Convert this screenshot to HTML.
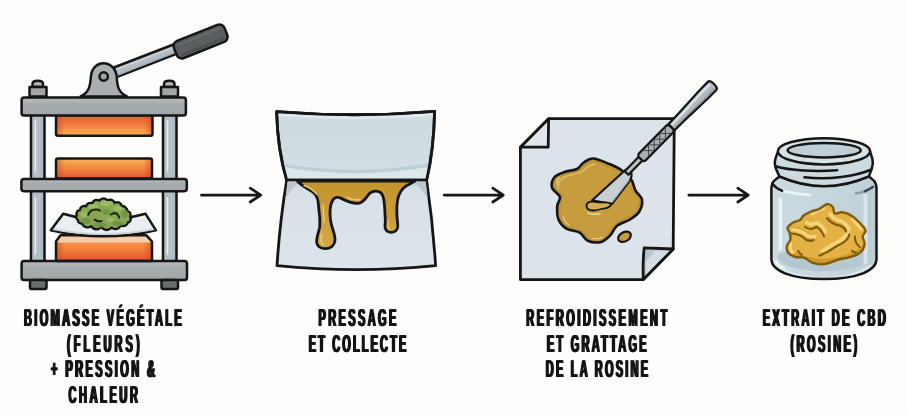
<!DOCTYPE html>
<html lang="fr">
<head>
<meta charset="utf-8">
<title>Extraction rosin CBD</title>
<style>
html,body{margin:0;padding:0;background:#fdfdfc;}
body{width:907px;height:415px;overflow:hidden;font-family:"Liberation Sans",sans-serif;}
svg{display:block;}
.lbl{font-family:"Liberation Sans",sans-serif;font-weight:bold;font-size:24.4px;fill:#141414;text-rendering:geometricPrecision;}
.o{stroke:#161616;stroke-width:2.2;stroke-linejoin:round;stroke-linecap:round;}
#step2 .o{stroke-width:2.8;}
#press .o{stroke-width:2.5;}
#step4 .o{stroke-width:2.5;}
#step3 .sh{stroke-width:2.8;}
</style>
</head>
<body>
<svg width="907" height="415" viewBox="0 0 907 415">
<defs>
  <linearGradient id="gHot" x1="0" y1="0" x2="0" y2="1">
    <stop offset="0" stop-color="#e85b38"/>
    <stop offset="0.45" stop-color="#f27a3c"/>
    <stop offset="1" stop-color="#fbb556"/>
  </linearGradient>
  <linearGradient id="gHot2" x1="0" y1="0" x2="0" y2="1">
    <stop offset="0" stop-color="#f8b259"/>
    <stop offset="0.5" stop-color="#f1863b"/>
    <stop offset="1" stop-color="#e4553a"/>
  </linearGradient>
  <linearGradient id="gHot3" x1="0" y1="0" x2="0" y2="1">
    <stop offset="0" stop-color="#f79a48"/>
    <stop offset="0.5" stop-color="#f07a38"/>
    <stop offset="1" stop-color="#e5532f"/>
  </linearGradient>
  <linearGradient id="gHotEdge" x1="0" y1="0" x2="1" y2="0">
    <stop offset="0" stop-color="#c9411f" stop-opacity="0.55"/>
    <stop offset="0.09" stop-color="#c9411f" stop-opacity="0"/>
    <stop offset="0.91" stop-color="#c9411f" stop-opacity="0"/>
    <stop offset="1" stop-color="#c9411f" stop-opacity="0.55"/>
  </linearGradient>
  <linearGradient id="gPlate" x1="0" y1="0" x2="0" y2="1">
    <stop offset="0" stop-color="#b2b7b9"/>
    <stop offset="0.28" stop-color="#aeb3b5"/>
    <stop offset="0.32" stop-color="#a6abad"/>
    <stop offset="0.8" stop-color="#a4a9ab"/>
    <stop offset="1" stop-color="#9a9fa1"/>
  </linearGradient>
  <linearGradient id="gCol" x1="0" y1="0" x2="1" y2="0">
    <stop offset="0" stop-color="#b3bec4"/>
    <stop offset="0.6" stop-color="#b5c0c6"/>
    <stop offset="1" stop-color="#a9b4bb"/>
  </linearGradient>
</defs>
<rect x="0" y="0" width="907" height="415" fill="#fdfdfc"/>

<!-- ============ STEP 1 : PRESS ============ -->
<g id="press">
  <!-- columns -->
  <rect class="o" x="31" y="112" width="13.5" height="152" fill="url(#gCol)"/>
  <rect class="o" x="163" y="112" width="13.5" height="152" fill="url(#gCol)"/>
  <g stroke="#e9eff2" stroke-width="1.5" stroke-linecap="round" fill="none">
    <path d="M35.4 121 V171 M35.4 198 V254 M167.4 121 V171 M167.4 198 V254"/>
  </g>
  <!-- heated blocks -->
  <rect x="56" y="115" width="96.5" height="20.8" rx="2" fill="url(#gHot)"/>
  <rect x="56" y="115" width="96.5" height="20.8" rx="2" fill="url(#gHotEdge)"/>
  <rect class="o" x="56" y="115" width="96.5" height="20.8" rx="2" fill="none"/>
  <rect x="56" y="158.5" width="96" height="20" rx="2" fill="url(#gHot2)"/>
  <rect x="56" y="158.5" width="96" height="20" rx="2" fill="url(#gHotEdge)"/>
  <rect class="o" x="56" y="158.5" width="96" height="20" rx="2" fill="none"/>
  <rect x="56" y="241" width="96" height="20" fill="url(#gHot3)"/>
  <rect x="56" y="241" width="96" height="20" fill="url(#gHotEdge)"/>
  <!-- handle rod -->
  <path class="o" d="M103.5 71.5 L173.5 44.5 L177 53.5 L107 80.8 Z" fill="#b4bdc3"/>
  <path d="M108 72.6 L173 47.5" stroke="#c9d1d6" stroke-width="1.8" fill="none"/>
  <path d="M110 78 L175 52.6" stroke="#9fa9af" stroke-width="1.6" fill="none"/>
  <!-- grip -->
  <rect class="o" x="-27.2" y="-9.2" width="54.4" height="18.4" rx="5.5" fill="#5b5e61" transform="translate(200.6 41.4) rotate(-21.8)"/>
  <path d="M-22 -5 L22 -5" stroke="#686b6e" stroke-width="2.2" stroke-linecap="round" transform="translate(200.6 41.4) rotate(-21.8)"/>
  <path d="M-22 5.6 L22 5.6" stroke="#4c4f52" stroke-width="2.4" stroke-linecap="round" transform="translate(200.6 41.4) rotate(-21.8)"/>
  <!-- bracket -->
  <path class="o" d="M80.5 96.5 C88.5 93 90 87 90.8 78 C91 69 96.5 63.2 103.5 63.2 C110.5 63.2 116.5 69 116.8 78 C117.3 87 119 93 127 96.5 Z" fill="#a9aeb0"/>
  <circle class="o" cx="103.7" cy="76.5" r="4.2" fill="#9ea3a5"/>
  <!-- bolts -->
  <g id="bolt">
    <path class="o" d="M32.5 87 L32.5 84 Q32.5 80.8 37.8 80.8 Q43 80.8 43 84 L43 87 Z" fill="#b1b6b8"/>
    <rect class="o" x="29.5" y="87" width="17" height="9.5" fill="#a0a5a7"/>
  </g>
  <use href="#bolt" x="131.5"/>
  <!-- plates -->
  <rect class="o" x="21.6" y="97.4" width="164.3" height="18.1" rx="2.6" fill="url(#gPlate)"/>
  <rect class="o" x="21.4" y="178.9" width="165.4" height="12.3" rx="2.6" fill="url(#gPlate)"/>
  <rect class="o" x="21.6" y="261" width="165.4" height="19" rx="2.6" fill="url(#gPlate)"/>
  <!-- bottom block top face -->
  <path d="M60.5 235.3 L146.4 235.3 L152 242.6 L56 242.6 Z" fill="#f7cba6"/>
  
  <path class="o" d="M60.5 235.3 L146.4 235.3 L152 241.5 L152 261 L56 261 L56 241.5 Z" fill="none"/>
  <!-- parchment -->
  <path class="o" d="M63.2 213.7 Q85 220 103 220.5 Q122 220 145.4 213.7 L156 230.3 Q130 236.3 103.5 236.3 Q77 236.3 50.8 230.3 Z" fill="#e9eef2"/>
  <path d="M55 228.5 Q103 238 152 228.5 L155 230 Q103.5 240 52 230 Z" fill="#c9d4dc"/>
  <!-- bud -->
  <path class="o" d="M76.8 215.3 A3.7 3.7 0 0 1 79.9 210.0 A4.3 4.3 0 0 1 86.1 206.4 A4.0 4.0 0 0 1 92.2 203.6 A4.7 4.7 0 0 1 99.4 200.6 A4.9 4.9 0 0 1 107.6 200.6 A4.5 4.5 0 0 1 114.7 202.8 A4.8 4.8 0 0 1 121.9 206.4 A4.1 4.1 0 0 1 127.0 210.8 A4.2 4.2 0 0 1 130.1 217.1 A3.4 3.4 0 0 1 128.0 222.5 A4.6 4.6 0 0 1 120.9 225.2 A5.7 5.7 0 0 1 111.6 227.5 A6.1 6.1 0 0 1 101.4 226.9 A6.1 6.1 0 0 1 91.2 226.1 A5.8 5.8 0 0 1 82.0 223.4 A3.3 3.3 0 0 1 77.9 219.8 A2.8 2.8 0 0 1 76.8 215.3 Z" fill="#88a753" style="stroke-width:2.3"/>
  <g fill="#6f9142" stroke="none" opacity="0.75">
    <ellipse cx="86" cy="221" rx="5" ry="3.2"/><ellipse cx="100" cy="225" rx="7" ry="2.8"/><ellipse cx="118" cy="223.5" rx="6" ry="2.8"/><ellipse cx="125" cy="214" rx="3.5" ry="4"/><ellipse cx="106" cy="212" rx="4" ry="3"/>
  </g>
  <g fill="#9dbb63" stroke="none">
    <ellipse cx="93.5" cy="206.5" rx="5" ry="2.4"/><ellipse cx="106" cy="203.5" rx="6" ry="2.4"/><ellipse cx="118" cy="208.5" rx="4.5" ry="2.4"/><ellipse cx="84" cy="214.5" rx="3" ry="2.4"/><ellipse cx="110.5" cy="219.5" rx="4" ry="2"/>
  </g>
  <g fill="none" stroke="#1f2a12" stroke-width="2.1" stroke-linecap="round">
    <path d="M88.2 214.8 Q90 209.8 95 209.6 Q98 209.2 100 210.6"/>
    <path d="M94.6 219.6 Q97.5 222 101.6 221"/>
    <path d="M110.8 214.5 Q114.5 212 117 214 Q118.8 215.8 119.2 217.6"/>
  </g>
  <!-- feet -->
  <rect class="o" x="30" y="280" width="16.5" height="9" rx="1.5" fill="#6b6e71"/>
  <rect class="o" x="161.5" y="280" width="16.5" height="9" rx="1.5" fill="#6b6e71"/>
</g>


<!-- ============ STEP 2 : FOLDED PARCHMENT ============ -->
<defs>
  <linearGradient id="gP2a" x1="0" y1="0" x2="0" y2="1">
    <stop offset="0" stop-color="#cfdbe1"/><stop offset="0.6" stop-color="#d0dce2"/><stop offset="1" stop-color="#d5e0e6"/>
  </linearGradient>
  <linearGradient id="gRos2" x1="0" y1="0" x2="0" y2="1">
    <stop offset="0" stop-color="#c4942c"/><stop offset="0.5" stop-color="#ca9c36"/><stop offset="1" stop-color="#d4ac48"/>
  </linearGradient>
  <linearGradient id="gP2b" x1="0" y1="0" x2="0" y2="1">
    <stop offset="0" stop-color="#c3d0d8"/><stop offset="0.1" stop-color="#d6e0e6"/><stop offset="1" stop-color="#dce5ea"/>
  </linearGradient>
</defs>
<clipPath id="cpTop"><path d="M276.6 111.6 Q356 118 434.6 111.4 Q433.8 150 426.6 180.2 L286.7 180.2 Q277.6 150 276.6 111.6 Z"/></clipPath>
<g id="step2">
  <path class="o" d="M276.6 111.6 Q356 118 434.6 111.4 Q433.8 150 426.6 180.2 L286.7 180.2 Q277.6 150 276.6 111.6 Z" fill="url(#gP2a)"/>
  <g clip-path="url(#cpTop)">
    <path d="M270 164 Q356 181 442 164 L440 182 L275 182 Z" fill="#dde6eb"/>
    <path d="M270 161 Q356 178.5 442 161 L442 164.5 Q356 182 270 164.5 Z" fill="#bfcdd5"/>
    <path d="M279 114.8 Q356 121 432.6 114.6" stroke="#e0e9ed" stroke-width="2.6" fill="none"/>
  </g>
  <path class="o" d="M276.6 111.6 Q356 118 434.6 111.4 Q433.8 150 426.6 180.2 L286.7 180.2 Q277.6 150 276.6 111.6 Z" fill="none"/>
  <path class="o" d="M286.7 180.2 L426.6 180.2 Q432.8 222 435.6 265.6 Q356 273.8 277 265.6 Q279.8 222 286.7 180.2 Z" fill="url(#gP2b)"/>
  <path d="M287.5 181.6 L299 181.6 Q292 189 285.6 198 Z" fill="#b9c7ce"/>
  <path d="M425.8 181.6 L414 181.6 Q421 189 427.6 198 Z" fill="#b9c7ce"/>
  <!-- rosin drip -->
  <path class="o" d="M297.5 181.2 C302 186 308 188.5 312 191.5 C316 194.5 318 198 318.3 203 C318.8 212 320.8 220 319.5 228 C318 234 316 239 316.8 243 C317.8 247 321.5 248.6 325.5 248.6 C330 248.6 334.5 246 335 240 C335.3 234 331.5 228 330.5 220 C329.5 212 330 205 332.5 200.5 C334.5 197 338 196.5 341.5 198.5 C347 201.5 352 203.5 358 203.3 C363.5 203 366 197.5 369 194 C372 190.5 378.5 190 381.5 193.5 C384 196.5 384.5 203 384.8 210 C385 217 385.8 221 385 225 C384.3 229.5 387 232.4 391.2 232.4 C395.5 232.4 398.3 229.5 397.8 225 C397.2 220 396.5 212 397 205 C397.4 198 399 192.5 403.5 188 C407 184.8 411.5 183.5 415 181.2 Z" fill="url(#gRos2)"/>
  <g fill="none" stroke="#e9c872" stroke-width="1.6" stroke-linecap="round">
    <path d="M321.5 234 Q320 242 323 244.5"/><path d="M388.3 221 Q387.5 227 389.5 229"/>
    <path d="M304 185.5 Q312 188.5 316.5 194"/><path d="M347 197.5 Q353 200.5 360 199.5"/><path d="M323 205 Q323.5 214 324 222"/>
  </g>
</g>

<!-- ============ STEP 3 : SHEET + TOOL ============ -->
<g id="step3">
  <path class="o sh" d="M548.6 118.7 L674.3 118.7 L673.2 249 L643.3 279.6 L520.4 279.6 L520.4 147.2 Z" fill="#dce3ea"/>
  <path class="o sh" d="M548.6 118.7 L548.2 147.2 L520.4 147.2 Z" fill="#dfe6eb"/>
  <path class="o sh" d="M644.2 247.8 L673.2 249 L643.3 279.6 Q642.6 262 644.2 247.8 Z" fill="#b7c4cc"/>
  <path d="M655 250.6 L669 251 L646 274.5 L645.6 262 Z" fill="#d3dde3"/>
  <!-- rosin puddle -->
  <clipPath id="cpBlob3"><path d="M593.0 158.5 C597.2 158.7 604.1 161.8 608.9 163.8 C613.7 165.8 618.2 167.8 622.0 170.5 C625.8 173.2 629.2 176.4 631.4 179.7 C633.6 183.0 633.6 187.0 635.4 190.3 C637.2 193.6 641.4 196.1 642.0 199.6 C642.6 203.1 641.3 208.2 639.3 211.5 C637.3 214.8 633.8 217.1 630.0 219.5 C626.2 221.9 620.1 223.3 616.8 226.0 C613.5 228.7 612.8 232.7 610.2 235.4 C607.6 238.1 604.8 241.1 601.0 242.0 C597.2 242.9 591.2 242.2 587.7 240.7 C584.2 239.1 583.2 234.7 579.7 232.7 C576.2 230.7 570.0 230.9 566.5 228.7 C563.0 226.5 560.0 223.2 558.5 219.5 C557.0 215.8 557.0 209.9 557.2 206.2 C557.4 202.4 560.8 200.1 559.9 197.0 C559.0 193.9 552.9 191.0 552.0 187.7 C551.1 184.4 552.4 179.7 554.6 177.0 C556.8 174.3 561.5 173.1 565.2 171.8 C568.9 170.5 573.9 170.6 577.0 169.0 C580.1 167.4 581.0 164.2 583.7 162.5 C586.4 160.8 588.8 158.3 593.0 158.5 Z"/></clipPath>
  <path d="M593.0 158.5 C597.2 158.7 604.1 161.8 608.9 163.8 C613.7 165.8 618.2 167.8 622.0 170.5 C625.8 173.2 629.2 176.4 631.4 179.7 C633.6 183.0 633.6 187.0 635.4 190.3 C637.2 193.6 641.4 196.1 642.0 199.6 C642.6 203.1 641.3 208.2 639.3 211.5 C637.3 214.8 633.8 217.1 630.0 219.5 C626.2 221.9 620.1 223.3 616.8 226.0 C613.5 228.7 612.8 232.7 610.2 235.4 C607.6 238.1 604.8 241.1 601.0 242.0 C597.2 242.9 591.2 242.2 587.7 240.7 C584.2 239.1 583.2 234.7 579.7 232.7 C576.2 230.7 570.0 230.9 566.5 228.7 C563.0 226.5 560.0 223.2 558.5 219.5 C557.0 215.8 557.0 209.9 557.2 206.2 C557.4 202.4 560.8 200.1 559.9 197.0 C559.0 193.9 552.9 191.0 552.0 187.7 C551.1 184.4 552.4 179.7 554.6 177.0 C556.8 174.3 561.5 173.1 565.2 171.8 C568.9 170.5 573.9 170.6 577.0 169.0 C580.1 167.4 581.0 164.2 583.7 162.5 C586.4 160.8 588.8 158.3 593.0 158.5 Z" fill="#c69c3f"/>
  <g clip-path="url(#cpBlob3)" fill="none">
    <path d="M593.0 158.5 C597.2 158.7 604.1 161.8 608.9 163.8 C613.7 165.8 618.2 167.8 622.0 170.5 C625.8 173.2 629.2 176.4 631.4 179.7 C633.6 183.0 633.6 187.0 635.4 190.3 C637.2 193.6 641.4 196.1 642.0 199.6 C642.6 203.1 641.3 208.2 639.3 211.5 C637.3 214.8 633.8 217.1 630.0 219.5 C626.2 221.9 620.1 223.3 616.8 226.0 C613.5 228.7 612.8 232.7 610.2 235.4 C607.6 238.1 604.8 241.1 601.0 242.0 C597.2 242.9 591.2 242.2 587.7 240.7 C584.2 239.1 583.2 234.7 579.7 232.7 C576.2 230.7 570.0 230.9 566.5 228.7 C563.0 226.5 560.0 223.2 558.5 219.5 C557.0 215.8 557.0 209.9 557.2 206.2 C557.4 202.4 560.8 200.1 559.9 197.0 C559.0 193.9 552.9 191.0 552.0 187.7 C551.1 184.4 552.4 179.7 554.6 177.0 C556.8 174.3 561.5 173.1 565.2 171.8 C568.9 170.5 573.9 170.6 577.0 169.0 C580.1 167.4 581.0 164.2 583.7 162.5 C586.4 160.8 588.8 158.3 593.0 158.5 Z" stroke="#b48a30" stroke-width="7" opacity="0.55"/>
    <path d="M556 186 Q555 178 562 174.5 Q572 171.5 580 169 Q585 163.5 592 161.5" stroke="#dab963" stroke-width="2" stroke-linecap="round" transform="translate(2.2 2.6)"/>
  </g>
  <path class="o" d="M593.0 158.5 C597.2 158.7 604.1 161.8 608.9 163.8 C613.7 165.8 618.2 167.8 622.0 170.5 C625.8 173.2 629.2 176.4 631.4 179.7 C633.6 183.0 633.6 187.0 635.4 190.3 C637.2 193.6 641.4 196.1 642.0 199.6 C642.6 203.1 641.3 208.2 639.3 211.5 C637.3 214.8 633.8 217.1 630.0 219.5 C626.2 221.9 620.1 223.3 616.8 226.0 C613.5 228.7 612.8 232.7 610.2 235.4 C607.6 238.1 604.8 241.1 601.0 242.0 C597.2 242.9 591.2 242.2 587.7 240.7 C584.2 239.1 583.2 234.7 579.7 232.7 C576.2 230.7 570.0 230.9 566.5 228.7 C563.0 226.5 560.0 223.2 558.5 219.5 C557.0 215.8 557.0 209.9 557.2 206.2 C557.4 202.4 560.8 200.1 559.9 197.0 C559.0 193.9 552.9 191.0 552.0 187.7 C551.1 184.4 552.4 179.7 554.6 177.0 C556.8 174.3 561.5 173.1 565.2 171.8 C568.9 170.5 573.9 170.6 577.0 169.0 C580.1 167.4 581.0 164.2 583.7 162.5 C586.4 160.8 588.8 158.3 593.0 158.5 Z" fill="none" style="stroke-width:2.6"/>
  <ellipse class="o" cx="624.5" cy="236.8" rx="6.8" ry="4.6" transform="rotate(-28 624.5 236.8)" fill="#c79a3c"/>
  <g fill="none" stroke="#e6c676" stroke-width="1.5" stroke-linecap="round">
    <path d="M557 184 Q556 179.5 559.5 177.5"/><path d="M563 217 Q565 223 569 225"/><path d="M592 238.5 Q598 239.5 602 237.5"/>
  </g>
  <!-- tool -->
  <g transform="translate(712 86) rotate(134.5)">
    <path class="o" d="M118 -2.4 C119.5 -5 121 -6.8 124 -7.4 L131 -8.4 L154.5 -11.4 L165.5 5.4 L121 3 Z" fill="#c9d0d4"/>
    <path d="M125 -6.6 L153.5 -10.2" stroke="#a3acb1" stroke-width="1.3" fill="none"/>
    <rect class="o" x="99" y="-2.6" width="23" height="5.2" fill="#b9c1c6"/>
    <path class="o" d="M0 -5.9 C-3.8 -5.9 -3.8 5.9 0 5.9 L10 5.9 C25 5.5 40 4.3 58 4.3 L58 -4.3 C40 -4.3 25 -5.5 10 -5.9 Z" fill="#b2bac0"/>
    <path d="M0.5 2.6 L12 2.8 C28 2.4 40 1.6 56 1.6" stroke="#dde3e6" stroke-width="2.2" fill="none"/>
    <path d="M0.5 -3.4 L12 -3.5 C28 -3.2 40 -2.4 56 -2.4" stroke="#949ca2" stroke-width="1.6" fill="none"/>
    <rect class="o" x="58" y="-4.8" width="44" height="9.6" rx="2.8" fill="#a7afb5"/>
    <g stroke="#3a3d40" stroke-width="0.85" fill="none">
      <path d="M62 -4.5 L71 4.5 M70 -4.5 L79 4.5 M78 -4.5 L87 4.5 M86 -4.5 L95 4.5 M62 4.5 L71 -4.5 M70 4.5 L79 -4.5 M78 4.5 L87 -4.5 M86 4.5 L95 -4.5"/>
    </g>
  </g>
  <path d="M587.5 213.2 Q593 215 600 213.8" stroke="#ecd9a0" stroke-width="1.4" stroke-linecap="round" fill="none"/>
  <!-- dab on blade tip -->
  <path class="o" d="M586.5 205.5 C586.5 201.5 592 201 596.5 202 C601 203 606 201.5 610 203 C612 204.5 609.5 208 605 208.3 C600 208.6 597.5 210.8 593 210.5 C589 210.3 586.5 208.5 586.5 205.5 Z" fill="#d6ad55" style="stroke-width:1.8"/>
</g>

<!-- ============ STEP 4 : JAR ============ -->
<defs>
  <linearGradient id="gJar" x1="0" y1="0" x2="1" y2="0">
    <stop offset="0" stop-color="#cbdbe0"/><stop offset="0.5" stop-color="#c5d6dc"/><stop offset="1" stop-color="#bfd1d7"/>
  </linearGradient>
</defs>
<g id="step4">
  <!-- body -->
  <clipPath id="cpJar"><path d="M779.5 176.5 C775 180 771.4 181.5 771.4 188 L771.4 259 C771.4 270.5 790 279 824 279 C858 279 876.5 270.5 876.5 259 L876.5 188 C876.5 181.5 873 180 869 176.5 Z"/></clipPath>
  <path d="M779.5 176.5 C775 180 771.4 181.5 771.4 188 L771.4 259 C771.4 270.5 790 279 824 279 C858 279 876.5 270.5 876.5 259 L876.5 188 C876.5 181.5 873 180 869 176.5 Z" fill="url(#gJar)"/>
  <g clip-path="url(#cpJar)">
    <!-- floor -->
    <path d="M771 252 C774 268 795 276.5 824 276.5 C853 276.5 874 268 877 252 L877 282 L771 282 Z" fill="#dbe7eb"/>
    <ellipse cx="824" cy="255.5" rx="47" ry="15.5" fill="#b6c8cf"/>
    <rect x="771" y="186" width="106" height="70" fill="url(#gJar)"/>
    <ellipse cx="824" cy="256" rx="47" ry="15" fill="#b6c8cf" opacity="0.0"/>
    <path d="M777 256 C777 264 798 271 824 271 C850 271 871 264 871 256 C871 247 777 247 777 256 Z" fill="#b6c8cf"/>
    <rect x="772" y="186" width="104" height="64" fill="url(#gJar)"/>
    <!-- right light band -->
    <rect x="863.5" y="194" width="4.2" height="70" fill="#dce8ec" opacity="0.85"/>
    <rect x="867.7" y="190" width="8" height="75" fill="#b9cbd2" opacity="0.7"/>
  </g>
  <path d="M780.3 199 L780.3 249" stroke="#eaf2f5" stroke-width="3.4" stroke-linecap="round" fill="none"/>
  <path d="M776 261 Q778 265.5 784 268" stroke="#eef5f7" stroke-width="2.2" stroke-linecap="round" fill="none"/>
  <path class="o" d="M779.5 176.5 C775 180 771.4 181.5 771.4 188 L771.4 259 C771.4 270.5 790 279 824 279 C858 279 876.5 270.5 876.5 259 L876.5 188 C876.5 181.5 873 180 869 176.5 Z" fill="none"/>
  <!-- rosin in jar -->
  <clipPath id="cpJarBlob"><path d="M827.0 204.2 C829.7 203.8 831.3 205.2 832.8 207.0 C834.3 208.8 833.0 212.2 834.7 213.3 C836.4 214.4 838.6 212.1 841.5 212.3 C844.4 212.5 846.3 212.9 849.2 214.3 C852.1 215.7 853.4 217.0 855.9 219.1 C858.4 221.2 859.8 222.6 861.7 224.9 C863.6 227.2 865.4 228.3 865.6 230.6 C865.8 232.9 862.9 233.9 862.7 236.4 C862.5 238.9 864.6 240.5 864.6 243.2 C864.6 245.9 864.2 247.6 862.7 249.9 C861.2 252.2 859.8 253.2 856.9 254.7 C854.0 256.2 851.9 256.6 848.2 257.6 C844.5 258.6 842.1 258.5 838.6 259.5 C835.1 260.5 834.4 261.4 830.9 262.4 C827.4 263.4 825.1 264.4 821.2 264.4 C817.3 264.4 815.1 263.8 811.6 262.4 C808.1 261.0 807.2 258.7 803.9 257.6 C800.6 256.5 798.4 258.0 795.2 257.0 C792.0 256.0 789.8 255.0 788.1 252.8 C786.4 250.6 786.4 248.8 786.9 246.1 C787.4 243.4 789.9 242.0 790.4 239.3 C790.9 236.6 790.1 234.9 789.5 232.6 C788.9 230.3 786.9 229.7 787.5 227.8 C788.1 225.9 789.8 224.5 792.3 222.9 C794.8 221.3 797.7 221.5 800.0 220.0 C802.3 218.5 801.6 216.9 803.9 215.2 C806.2 213.5 808.5 212.7 811.6 211.4 C814.7 210.1 816.2 210.3 819.3 208.9 C822.4 207.5 824.3 204.6 827.0 204.2 Z"/></clipPath>
  <g>
    <path d="M827.0 204.2 C829.7 203.8 831.3 205.2 832.8 207.0 C834.3 208.8 833.0 212.2 834.7 213.3 C836.4 214.4 838.6 212.1 841.5 212.3 C844.4 212.5 846.3 212.9 849.2 214.3 C852.1 215.7 853.4 217.0 855.9 219.1 C858.4 221.2 859.8 222.6 861.7 224.9 C863.6 227.2 865.4 228.3 865.6 230.6 C865.8 232.9 862.9 233.9 862.7 236.4 C862.5 238.9 864.6 240.5 864.6 243.2 C864.6 245.9 864.2 247.6 862.7 249.9 C861.2 252.2 859.8 253.2 856.9 254.7 C854.0 256.2 851.9 256.6 848.2 257.6 C844.5 258.6 842.1 258.5 838.6 259.5 C835.1 260.5 834.4 261.4 830.9 262.4 C827.4 263.4 825.1 264.4 821.2 264.4 C817.3 264.4 815.1 263.8 811.6 262.4 C808.1 261.0 807.2 258.7 803.9 257.6 C800.6 256.5 798.4 258.0 795.2 257.0 C792.0 256.0 789.8 255.0 788.1 252.8 C786.4 250.6 786.4 248.8 786.9 246.1 C787.4 243.4 789.9 242.0 790.4 239.3 C790.9 236.6 790.1 234.9 789.5 232.6 C788.9 230.3 786.9 229.7 787.5 227.8 C788.1 225.9 789.8 224.5 792.3 222.9 C794.8 221.3 797.7 221.5 800.0 220.0 C802.3 218.5 801.6 216.9 803.9 215.2 C806.2 213.5 808.5 212.7 811.6 211.4 C814.7 210.1 816.2 210.3 819.3 208.9 C822.4 207.5 824.3 204.6 827.0 204.2 Z" fill="#e4b144"/>
    <g clip-path="url(#cpJarBlob)">
      <path d="M784 246 Q792 262 812 266 Q830 270 850 262 Q866 254 868 238 Q860 252 842 256 Q824 262 806 256 Q792 254 784 246 Z" fill="#cf982f"/>
      <path d="M789 226 Q800 232 807 240 Q812 243 816 240 Q808 232 800 228 Z" fill="#cf982f" opacity="0.8"/>
      <path d="M826 217 Q832 226 842 228 Q847 232 847 240 Q853 232 848 226 Q840 220 833 218 Z" fill="#cf982f" opacity="0.7"/>
      <g fill="none" stroke="#f5d57c" stroke-width="3.4" stroke-linecap="round" stroke-linejoin="round">
        <path d="M806.5 222.5 Q811 226 816.5 222.5 Q822 224.5 825.5 232"/>
        <path d="M830 214 Q834 220 841.5 221.5 Q846.5 224 849.5 229.5"/>
        <path d="M793 229.5 Q801 230 807.5 236 Q811 237.5 815 236.5"/>
        <path d="M822 251 Q830 246.5 838 241.5 Q845.5 237.5 848 231.5"/>
        <path d="M790.5 244 Q789.5 249.5 792.5 252.5"/>
        <path d="M812 213.5 Q818 210.5 824 208"/>
        <path d="M852 219 Q858 224 861 229"/>
      </g>
      <g fill="none" stroke="#7a590f" stroke-width="2" stroke-linecap="round" stroke-linejoin="round">
        <path d="M804.9 226.8 Q810 231 816.4 226.8 Q821 229 824.1 236.4"/>
        <path d="M827 218.1 Q831 224 840.5 225.8 Q845 228 846.3 231.6"/>
        <path d="M791.4 233.5 Q800 233.5 806.8 240.3 Q810 241.3 813.5 240.3"/>
        <path d="M849.2 234.5 Q849 241 836.7 246.1 Q828 252.5 819.3 255.7"/>
        <path d="M855 236.4 Q854.5 243 859.8 247"/>
        <path d="M798.1 250.9 Q799 253.5 802 254.7"/>
        <path d="M852 250.9 Q854 252.5 856 252.8"/>
      </g>
    </g>
    <path d="M827.0 204.2 C829.7 203.8 831.3 205.2 832.8 207.0 C834.3 208.8 833.0 212.2 834.7 213.3 C836.4 214.4 838.6 212.1 841.5 212.3 C844.4 212.5 846.3 212.9 849.2 214.3 C852.1 215.7 853.4 217.0 855.9 219.1 C858.4 221.2 859.8 222.6 861.7 224.9 C863.6 227.2 865.4 228.3 865.6 230.6 C865.8 232.9 862.9 233.9 862.7 236.4 C862.5 238.9 864.6 240.5 864.6 243.2 C864.6 245.9 864.2 247.6 862.7 249.9 C861.2 252.2 859.8 253.2 856.9 254.7 C854.0 256.2 851.9 256.6 848.2 257.6 C844.5 258.6 842.1 258.5 838.6 259.5 C835.1 260.5 834.4 261.4 830.9 262.4 C827.4 263.4 825.1 264.4 821.2 264.4 C817.3 264.4 815.1 263.8 811.6 262.4 C808.1 261.0 807.2 258.7 803.9 257.6 C800.6 256.5 798.4 258.0 795.2 257.0 C792.0 256.0 789.8 255.0 788.1 252.8 C786.4 250.6 786.4 248.8 786.9 246.1 C787.4 243.4 789.9 242.0 790.4 239.3 C790.9 236.6 790.1 234.9 789.5 232.6 C788.9 230.3 786.9 229.7 787.5 227.8 C788.1 225.9 789.8 224.5 792.3 222.9 C794.8 221.3 797.7 221.5 800.0 220.0 C802.3 218.5 801.6 216.9 803.9 215.2 C806.2 213.5 808.5 212.7 811.6 211.4 C814.7 210.1 816.2 210.3 819.3 208.9 C822.4 207.5 824.3 204.6 827.0 204.2 Z" fill="none" stroke="#7d5c10" stroke-width="2.4" stroke-linejoin="round"/>
  </g>
  <!-- neck -->
  <path class="o" d="M778 152 C776 157 774 160 775 165 C775.5 169 777.5 172 779.5 176.5 Q824 196 868.8 176.5 C870.5 172 872.5 168 872.8 163 C873 158 871 155 870.2 152 Z" fill="#cddbe0"/>
  <!-- rim -->
  <ellipse class="o" cx="824" cy="151.3" rx="46.2" ry="13.1" fill="#d6e2e6"/>
  <ellipse class="o" cx="824.2" cy="150.2" rx="36.6" ry="7.2" fill="#bfcfd5"/>
  <g fill="none" class="o">
    <path d="M775.3 166.3 C790 170.5 815 172 837.3 170.2"/>
    <path d="M804.4 177.3 C830 180 855 176.5 871.5 169.5"/>
  </g>
  <!-- shoulder highlights -->
  <path d="M772.2 183.5 Q776 188.5 782.3 190.8" stroke="#161616" stroke-width="2.4" stroke-linecap="round" fill="none"/>
  <path d="M784.5 191.3 Q796 194.3 810 195" stroke="#eef5f7" stroke-width="2.6" stroke-linecap="round" fill="none"/>
  <path d="M856 193.3 Q862 192.5 866 190.8" stroke="#8c9da4" stroke-width="2.4" stroke-linecap="round" fill="none"/>
  <path d="M865 191.2 Q869.5 189.5 873 186.8" stroke="#3f4c51" stroke-width="2.6" stroke-linecap="round" fill="none"/>
</g>

<!-- ============ ARROWS ============ -->
<g fill="none" stroke="#161616" stroke-width="2.7" stroke-linecap="round" stroke-linejoin="round">
  <path d="M201.4 195.1 H260.4 M250.2 188.2 L260.8 195.1 L250.2 202"/>
  <path d="M444.2 195.1 H503 M492.8 188.2 L503.3 195.1 L492.8 202"/>
  <path d="M688.8 195.1 H747.8 M737.8 188.2 L748.3 195.1 L737.8 202"/>
</g>

<!-- ============ LABELS ============ -->
<g opacity="0.999">
<use href="#labels" x="-0.8"/>
<use href="#labels" x="0.8"/>
<g id="labels" class="lbl">
  <text transform="translate(24.0 326.0) scale(0.450 1)" textLength="350.4" lengthAdjust="spacing">BIOMASSE VÉGÉTALE</text>
  <text transform="translate(67.0 351.5) scale(0.450 1)" textLength="161.3" lengthAdjust="spacing">(FLEURS)</text>
  <text transform="translate(51.0 377.3) scale(0.450 1)" textLength="231.3" lengthAdjust="spacing">+ PRESSION &amp;</text>
  <text transform="translate(68.5 402.8) scale(0.450 1)" textLength="154.2" lengthAdjust="spacing">CHALEUR</text>
  <text transform="translate(318.5 326.0) scale(0.450 1)" textLength="172.9" lengthAdjust="spacing">PRESSAGE</text>
  <text transform="translate(308.7 351.7) scale(0.450 1)" textLength="216.9" lengthAdjust="spacing">ET COLLECTE</text>
  <text transform="translate(526.3 326.3) scale(0.450 1)" textLength="313.1" lengthAdjust="spacing">REFROIDISSEMENT</text>
  <text transform="translate(546.9 352.0) scale(0.450 1)" textLength="221.6" lengthAdjust="spacing">ET GRATTAGE</text>
  <text transform="translate(545.8 377.2) scale(0.450 1)" textLength="227.3" lengthAdjust="spacing">DE LA ROSINE</text>
  <text transform="translate(762.7 326.2) scale(0.450 1)" textLength="273.6" lengthAdjust="spacing">EXTRAIT DE CBD</text>
  <text transform="translate(790.5 351.6) scale(0.450 1)" textLength="148.0" lengthAdjust="spacing">(ROSINE)</text>
</g>
</g>
</svg>
</body>
</html>
